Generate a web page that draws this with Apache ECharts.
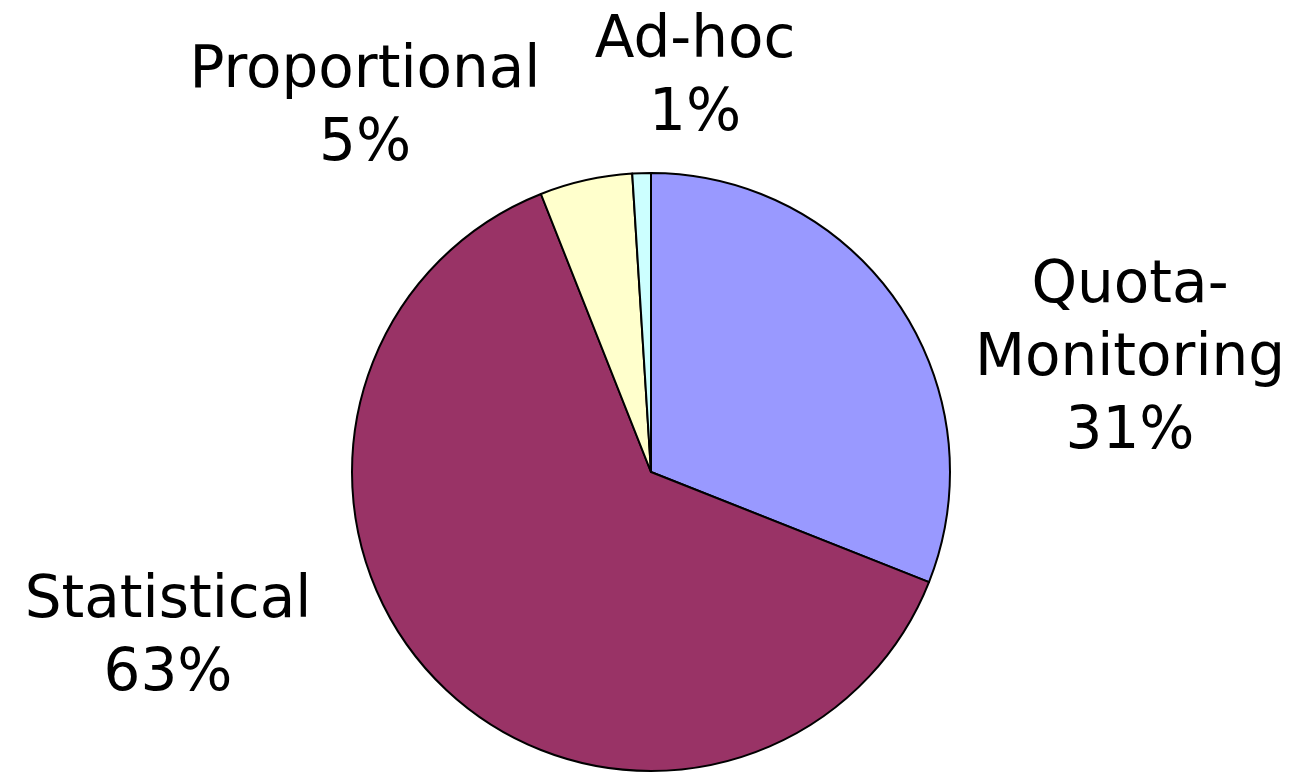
<!DOCTYPE html>
<html>
<head>
<meta charset="utf-8">
<script src="https://cdn.jsdelivr.net/npm/echarts@6/dist/echarts.min.js"></script>
<style>
  html, body { margin: 0; padding: 0; background: #fff; }
  #chart { width: 1294px; height: 772px; }
</style>
</head>
<body>
<div id="chart"></div>
<script>
// slices, clockwise from 12 o'clock
var names = ["Quota-\nMonitoring", "Statistical", "Proportional", "Ad-hoc"];
var values = [31, 63, 5, 1];
var colors = ["#9999FF", "#993366", "#FFFFCC", "#CCFFFF"];

// where each label block sits (centre of the text)
var labelPos = [[1130, 360], [168, 638], [365, 108], [695, 78]];

var chart = echarts.init(document.getElementById("chart"));
chart.setOption({
  animation: false,
  series: [{
    type: "pie",
    center: [651, 472],
    radius: 299,
    startAngle: 90,
    clockwise: true,
    data: names.map(function (n, i) {
      return { name: n, value: values[i], itemStyle: { color: colors[i] } };
    }),
    itemStyle: { borderColor: "#000", borderWidth: 2 },
    label: {
      show: true,
      position: "outside",
      formatter: "{b}\n{d}%",
      fontFamily: "DejaVu Sans",
      fontSize: 58,
      lineHeight: 73,
      color: "#000",
      align: "center",
      overflow: "none"
    },
    labelLine: { show: false },
    labelLayout: function (params) {
      var p = labelPos[params.dataIndex];
      return { x: p[0], y: p[1], align: "center", verticalAlign: "middle" };
    },
    emphasis: { disabled: true }
  }]
});
</script>
</body>
</html>
